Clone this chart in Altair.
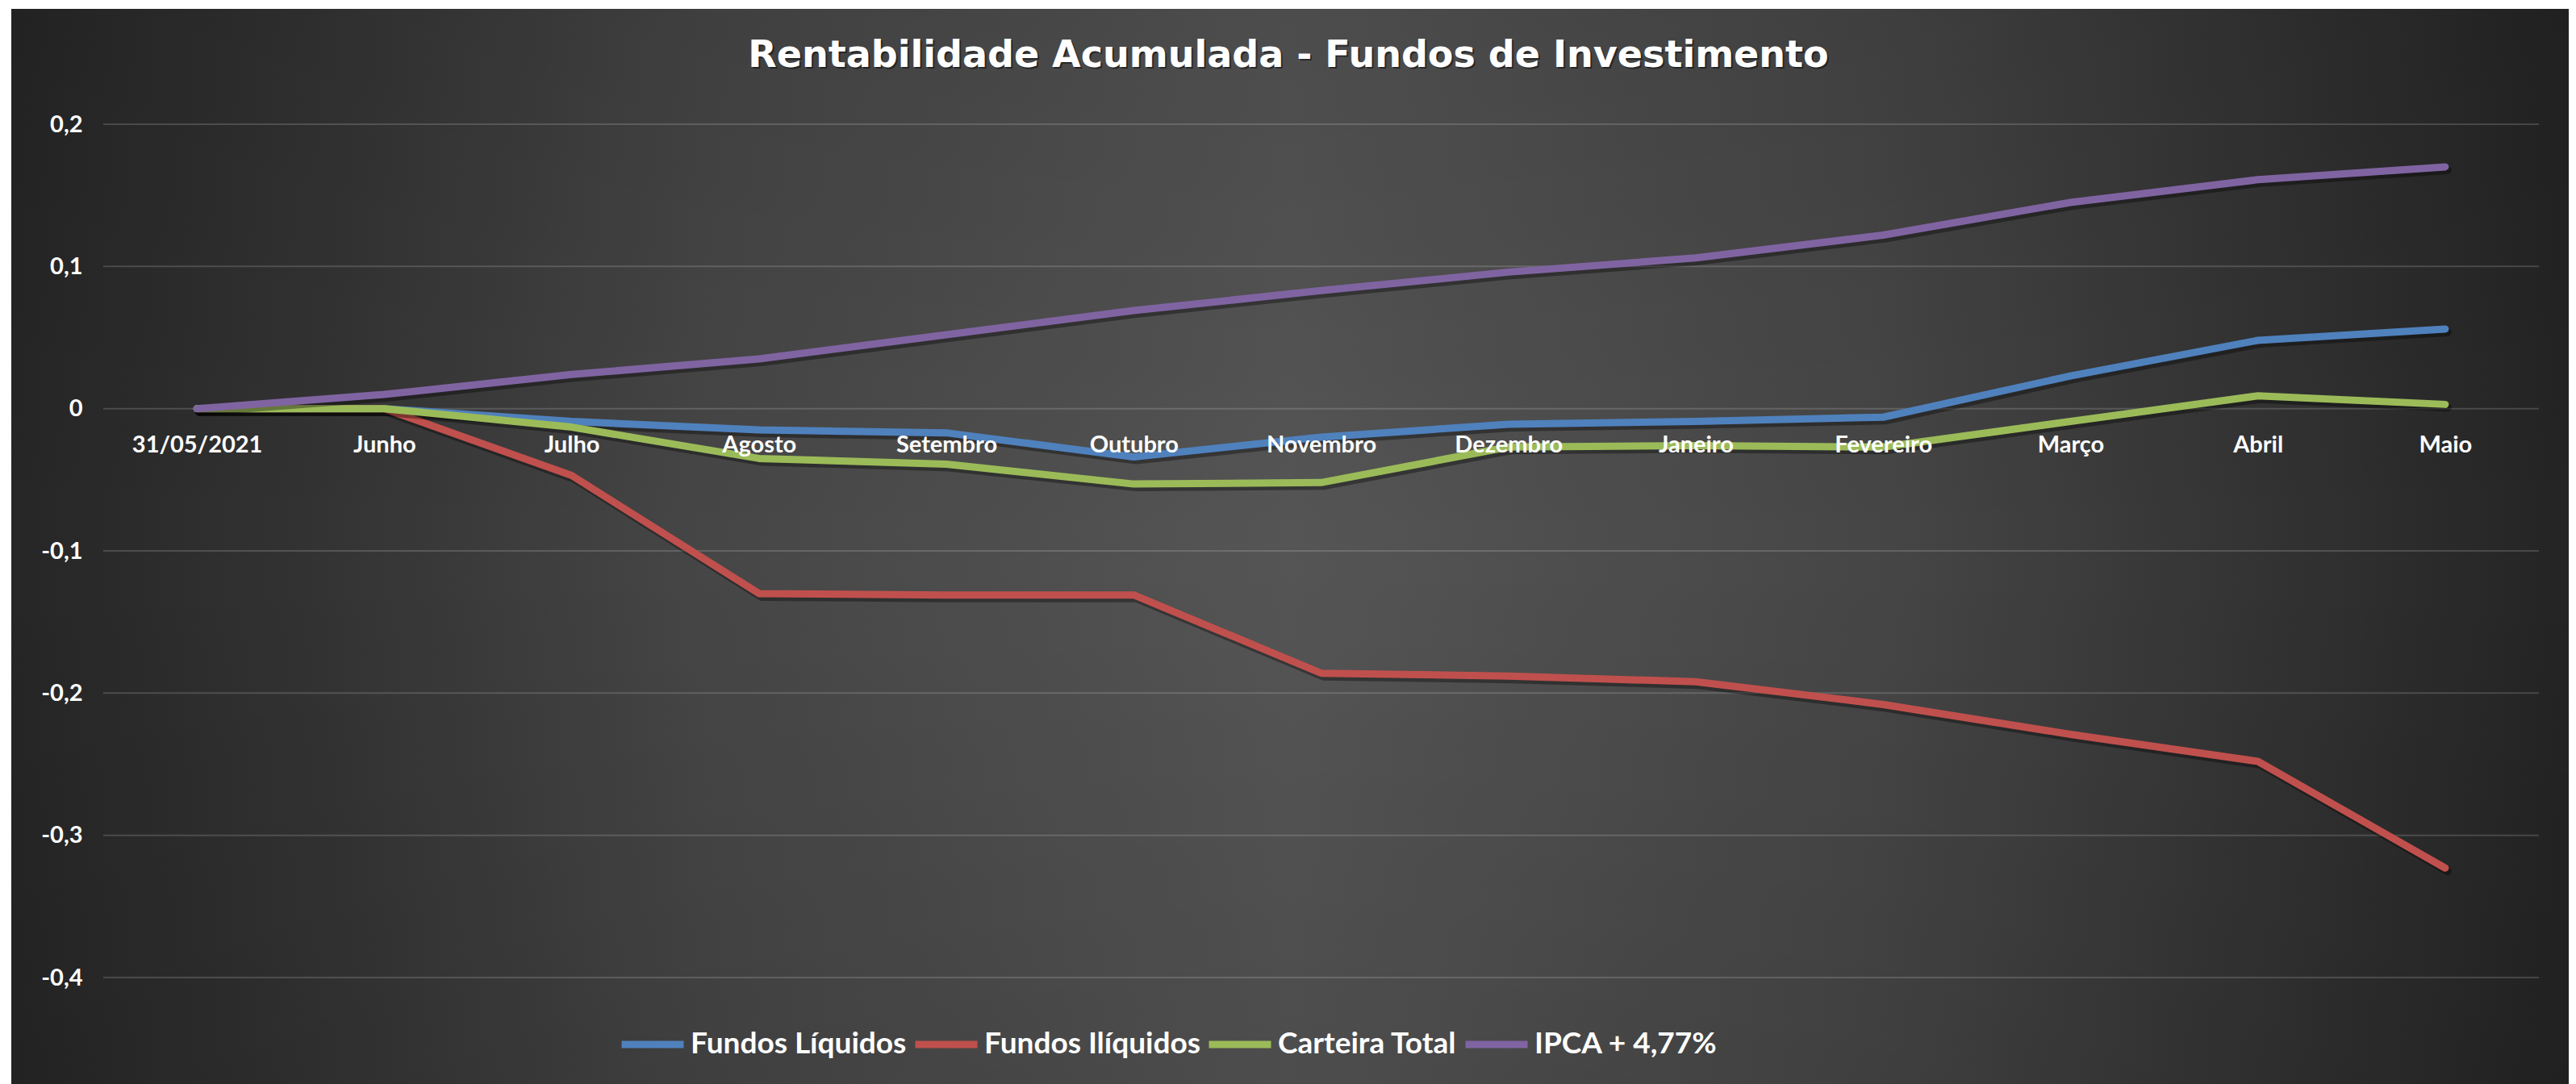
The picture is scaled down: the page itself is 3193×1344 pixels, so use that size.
import altair as alt
import pandas as pd

categories = ["31/05/2021", "Junho", "Julho", "Agosto", "Setembro", "Outubro",
              "Novembro", "Dezembro", "Janeiro", "Fevereiro", "Março", "Abril", "Maio"]
fundos_liquidos = [0.0, 0.0, -0.009, -0.015, -0.017, -0.034, -0.020, -0.011, -0.009, -0.006, 0.023, 0.048, 0.056]
fundos_iliquidos = [0.0, 0.0, -0.047, -0.130, -0.131, -0.131, -0.186, -0.188, -0.192, -0.208, -0.229, -0.248, -0.323]
carteira_total = [0.0, 0.0, -0.013, -0.035, -0.039, -0.053, -0.052, -0.027, -0.026, -0.027, -0.009, 0.009, 0.003]
ipca = [0.0, 0.010, 0.024, 0.035, 0.052, 0.069, 0.083, 0.096, 0.106, 0.122, 0.145, 0.161, 0.170]
series_names = ["Fundos Líquidos", "Fundos Ilíquidos", "Carteira Total", "IPCA + 4,77%"]
series_values = [fundos_liquidos, fundos_iliquidos, carteira_total, ipca]
series_colors = ["#4F81BD", "#C0504D", "#9BBB59", "#8064A2"]
y_ticks = [0.2, 0.1, 0.0, -0.1, -0.2, -0.3, -0.4]
title_text = "Rentabilidade Acumulada - Fundos de Investimento"

W, H = 3019, 1058
FONT = "Lato"

yscale = alt.Scale(domain=[-0.4, 0.2], nice=False, zero=False)
yaxis = alt.Axis(
    values=y_ticks, grid=False, domain=False, ticks=False, tickSize=0,
    labelFont=FONT, labelFontSize=29, labelFontWeight="bold", labelColor="white",
    labelPadding=26, zindex=1, title=None,
    labelExpr="(datum.value < 0 ? '-' : '') + replace(format(abs(datum.value), '.1~f'), '.', ',')",
)
xaxis = alt.Axis(
    grid=False, domain=False, ticks=False, tickSize=0, labelAngle=0,
    labelFont=FONT, labelFontSize=29, labelFontWeight="bold", labelColor="white",
    labelPadding=54, labelBaseline="alphabetic", labelOverlap=False,
    offset=-H * 0.4 / 0.6, zindex=1, title=None,
)
X = alt.X("cat:N", sort=categories, scale=alt.Scale(type="point", padding=0.5), axis=xaxis)
Y = alt.Y("value:Q", scale=yscale, axis=yaxis)

legend = alt.Legend(
    orient="none", legendX=638, legendY=1098, direction="horizontal", title=None,
    symbolType="stroke", symbolSize=5929, symbolStrokeWidth=9,
    labelFont=FONT, labelFontSize=37, labelFontWeight="bold", labelColor="white",
    labelOffset=4, columnPadding=-8, labelLimit=0,
)
color = alt.Color("series:N", scale=alt.Scale(domain=series_names, range=series_colors), legend=legend)

one = pd.DataFrame({"a": [0]})
bg = alt.Chart(one).mark_rect(
    fill=alt.LinearGradient(
        gradient="linear", x1=0, x2=1, y1=0, y2=0,
        stops=[
            alt.GradientStop(offset=0.0, color="#262626"),
            alt.GradientStop(offset=0.12, color="#333333"),
            alt.GradientStop(offset=0.27, color="#464646"),
            alt.GradientStop(offset=0.5, color="#555555"),
            alt.GradientStop(offset=0.73, color="#464646"),
            alt.GradientStop(offset=0.88, color="#333333"),
            alt.GradientStop(offset=1.0, color="#242424"),
        ],
    )
).encode(x=alt.value(-114), x2=alt.value(3056), y=alt.value(-143), y2=alt.value(1200))

bg2 = alt.Chart(one).mark_rect(
    fill=alt.LinearGradient(
        gradient="linear", x1=0, x2=0, y1=0, y2=1,
        stops=[
            alt.GradientStop(offset=0.0, color="rgba(0,0,0,0.10)"),
            alt.GradientStop(offset=0.5, color="rgba(0,0,0,0)"),
            alt.GradientStop(offset=1.0, color="rgba(0,0,0,0.10)"),
        ],
    )
).encode(x=alt.value(-114), x2=alt.value(3056), y=alt.value(-143), y2=alt.value(1200))

title_df = pd.DataFrame({"t": [title_text]})
title_shadow = alt.Chart(title_df).mark_text(
    font="DejaVu Sans", fontSize=46, fontWeight="bold", color="black", opacity=0.45,
    align="center", baseline="alphabetic",
).encode(text="t:N", x=alt.value(1471), y=alt.value(-69))
title = alt.Chart(title_df).mark_text(
    font="DejaVu Sans", fontSize=46, fontWeight="bold", color="white",
    align="center", baseline="alphabetic",
).encode(text="t:N", x=alt.value(1469), y=alt.value(-71))

grid = alt.Chart(pd.DataFrame({"value": y_ticks})).mark_rule(
    color="#ffffff", opacity=0.16, strokeWidth=2
).encode(y=Y)

layers = [bg, bg2, title_shadow, title, grid]
for name, vals in zip(series_names, series_values):
    df = pd.DataFrame({"cat": categories, "value": vals, "series": name})
    shadow = alt.Chart(df).mark_line(
        color="black", opacity=0.35, strokeWidth=10, strokeCap="round", strokeJoin="round",
        xOffset=3, yOffset=4,
    ).encode(x=X, y=Y)
    line = alt.Chart(df).mark_line(
        strokeWidth=9, strokeCap="round", strokeJoin="round",
    ).encode(x=X, y=Y, color=color)
    layers += [shadow, line]

chart = alt.layer(*layers).properties(
    width=W, height=H,
    autosize=alt.AutoSizeParams(type="none"),
    padding={"left": 120, "top": 146, "right": 37, "bottom": 132},
    background="white",
).configure_view(stroke=None)

chart.save("out.html", embed_options={"renderer": "svg", "actions": False})
